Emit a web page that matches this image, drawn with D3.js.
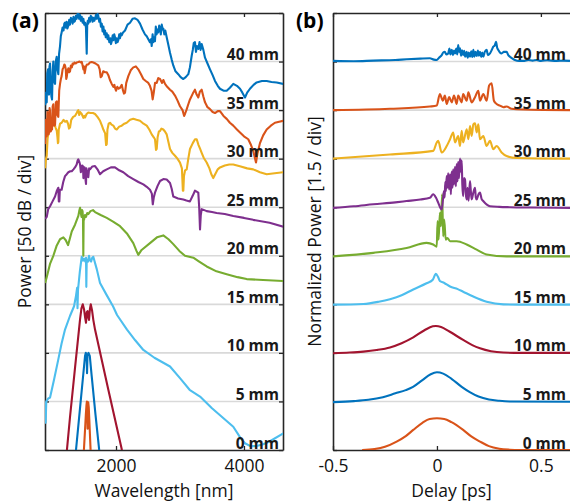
<!DOCTYPE html>
<html>
<head>
<meta charset="utf-8">
<script src="https://cdn.jsdelivr.net/npm/d3@7"></script>
<style>
  html, body { margin: 0; padding: 0; background: #fff; }
  svg { display: block; font-family: "Open Sans", "DejaVu Sans", sans-serif; }
</style>
</head>
<body>
<svg id="fig" width="570" height="502"></svg>
<script>
// ---------------- data ----------------
const propagation = ["0 mm", "5 mm", "10 mm", "15 mm", "20 mm", "25 mm", "30 mm", "35 mm", "40 mm"];
const traceColors = ["#D95319", "#0072BD", "#A2142F", "#4DBEEE", "#77AC30", "#7E2F8E", "#EDB120", "#D95319", "#0072BD"];
const wavelengthTicks = [2000, 4000];
const delayTicks = [-0.5, 0, 0.5];
const dBPerDiv = 50;
const powerPerDiv = 1.5;
const divisions = 9;

// spectra: [wavelength (nm), power (dB relative to peak)]
const spec0 = [[1480,-70],[1500,-48],[1515,-30],[1528,-14],[1538,-4],[1545,0],[1552,-2],[1556,-28],[1560,-4],[1566,-1],[1574,-6],[1586,-24],[1600,-46],[1615,-70]];
const spec5 = [[1360,-110],[1440,-55],[1500,-14],[1516,-3],[1528,0],[1540,-2],[1547,-21],[1554,-3],[1570,0],[1590,-3],[1620,-24],[1680,-64],[1745,-105]];
const spec10 = [[1220,-165],[1234,-149],[1281,-116],[1360,-65],[1437,-16],[1460,-4],[1480,0],[1500,-5],[1518,-14],[1531,-19],[1543,-8],[1555,-7],[1566,-13],[1578,-16],[1592,-5],[1605,0],[1625,-6],[1645,-16],[1672,-26],[1880,-88],[2089,-149],[2110,-160]];
const spec15 = [[892,-150],[900,-172],[910,-150],[940,-147],[969,-146],[1030,-128],[1094,-108],[1150,-90],[1203,-76],[1280,-62],[1344,-52],[1375,-41],[1392,-33],[1398,-54],[1406,-35],[1435,-16],[1464,-1],[1485,-5],[1500,-3],[1520,-6],[1531,-2],[1536,-32],[1542,-4],[1562,-6],[1578,0],[1595,-5],[1610,-6],[1628,-2],[1645,-1],[1700,-14],[1750,-28],[1850,-40],[1953,-52],[2016,-61],[2172,-76],[2300,-87],[2427,-97],[2600,-105],[2844,-114],[3000,-126],[3150,-138],[3313,-145],[3500,-157],[3833,-176],[3950,-188],[4016,-193],[4100,-196],[4198,-196],[4300,-194],[4406,-191],[4614,-183]];
const spec20 = [[892,-78],[917,-72],[970,-58],[1020,-50],[1070,-40],[1125,-33],[1177,-31],[1215,-34],[1250,-39],[1280,-32],[1308,-25],[1359,-18],[1411,-9],[1425,-4],[1438,-0.5],[1450,-6],[1461,-10],[1470,-3],[1477,-4],[1484,-12],[1489,-50],[1494,-12],[1500,-13],[1515,-8],[1531,-10],[1550,-6],[1567,-7],[1600,-4],[1640,-3],[1672,-5],[1760,-8],[1855,-11],[1960,-15],[2063,-19.5],[2170,-27],[2270,-37],[2320,-45],[2348,-49],[2400,-44],[2531,-37],[2640,-31],[2739,-29],[2820,-33],[2895,-38],[2990,-45],[3078,-50],[3208,-52],[3300,-56],[3417,-61],[3570,-66],[3730,-69],[3900,-72],[4042,-74],[4300,-75],[4614,-76]];
const spec25 = [[892,-62],[917,-60],[940,-52],[969,-49],[1000,-45],[1047,-39],[1075,-33],[1098,-30],[1106,-44],[1114,-44],[1122,-32],[1150,-32],[1175,-24],[1203,-18],[1230,-16],[1255,-14],[1285,-13],[1308,-13],[1335,-11],[1359,-9],[1385,-6],[1400,-2],[1411,-0.7],[1425,-3],[1438,-6],[1450,-14],[1457,-8],[1464,-13],[1472,-7],[1484,-8],[1490,-20],[1496,-10],[1500,-19],[1508,-9],[1516,-11],[1524,-22],[1531,-26],[1537,-10],[1547,-13],[1556,-18],[1567,-19],[1580,-10],[1594,-11],[1630,-8],[1672,-7.6],[1710,-11],[1750,-16],[1800,-13],[1855,-11],[1920,-9],[1984,-9],[2050,-12],[2114,-14],[2190,-18],[2270,-21],[2350,-24],[2427,-26.5],[2480,-29],[2531,-32],[2560,-36],[2575,-47],[2590,-40],[2609,-35],[2650,-28],[2688,-23],[2740,-21],[2792,-21.5],[2844,-25],[2870,-31],[2895,-39],[2970,-41],[3052,-42],[3100,-43],[3156,-44],[3200,-38],[3234,-33],[3260,-34],[3286,-35],[3300,-50],[3313,-73],[3325,-58],[3339,-52],[3380,-53],[3417,-54],[3500,-55],[3573,-56],[3700,-57],[3833,-59],[4000,-61],[4145,-63],[4400,-66],[4614,-70]];
const spec30 = [[892,-60],[905,-50],[917,-47],[930,-30],[945,-22],[960,-18],[969,-16],[985,-12],[1000,-14],[1020,-9],[1040,-14],[1055,-18],[1073,-21],[1085,-28],[1092,-34],[1098,-33],[1105,-20],[1125,-14],[1150,-13],[1180,-10],[1205,-12],[1230,-11],[1250,-14],[1265,-19],[1281,-18],[1300,-10],[1330,-7],[1359,-6],[1385,-3],[1400,-1],[1411,0],[1425,-5],[1440,-2],[1464,-4],[1490,-8],[1505,-6],[1516,-7.6],[1540,-4],[1567,-2.5],[1600,-3],[1640,-3],[1672,-4],[1710,-7],[1750,-11],[1780,-16],[1802,-20],[1830,-24],[1845,-36],[1855,-35],[1866,-20],[1885,-14],[1906,-13],[1930,-15],[1958,-16],[1985,-19],[2011,-20],[2050,-17],[2089,-16],[2130,-14],[2167,-13],[2220,-10],[2270,-9],[2320,-10],[2375,-11],[2430,-14],[2480,-16],[2520,-20],[2558,-25],[2590,-28],[2609,-30],[2625,-41],[2636,-40],[2650,-28],[2670,-22],[2688,-21.5],[2710,-19],[2739,-20],[2765,-22],[2792,-25],[2820,-33],[2844,-40],[2880,-44],[2922,-47],[2960,-50],[3000,-54],[3030,-60],[3045,-83],[3052,-83],[3062,-68],[3080,-62],[3105,-61],[3130,-50],[3156,-40],[3200,-34],[3235,-30],[3261,-30],[3290,-36],[3315,-40],[3339,-44],[3370,-49],[3417,-54],[3460,-60],[3490,-66],[3520,-70],[3550,-66],[3590,-61],[3625,-59],[3700,-57],[3770,-56],[3833,-56],[3950,-58],[4050,-60],[4145,-61],[4250,-64],[4355,-66],[4480,-65],[4614,-64]];
const spec35 = [[892,-85],[905,-60],[917,-77],[928,-52],[938,-54],[946,-75],[953,-73],[962,-48],[969,-51],[980,-72],[990,-70],[1000,-70],[1010,-46],[1020,-44],[1032,-66],[1047,-65],[1060,-42],[1073,-41],[1085,-55],[1098,-57],[1112,-30],[1125,-23],[1138,-18],[1150,-15],[1165,-8],[1180,-6],[1192,-3],[1203,-4],[1215,-8],[1222,-18],[1230,-16],[1240,-10],[1255,-7],[1268,-11],[1281,-10],[1295,-4],[1310,-6],[1322,-2],[1333,-3],[1350,-1],[1370,-2],[1386,-1],[1410,-0.5],[1430,0],[1450,-1],[1464,-0.3],[1478,-4],[1490,-8],[1500,-5],[1510,-12],[1516,-10],[1530,-5],[1545,-3],[1567,-3],[1590,-1],[1620,-0.5],[1645,-1],[1680,-2],[1700,-3],[1723,-4],[1745,-8],[1760,-16],[1777,-15],[1800,-10],[1830,-11],[1855,-11],[1880,-14],[1905,-19],[1933,-23],[1958,-26],[1975,-24],[1984,-27],[2000,-30],[2020,-26],[2040,-28],[2063,-27],[2090,-24],[2110,-30],[2125,-33],[2141,-32],[2160,-22],[2192,-15],[2230,-9],[2270,-6],[2310,-5],[2348,-8],[2390,-13],[2427,-18],[2465,-20],[2505,-22],[2530,-25],[2555,-30],[2573,-39],[2590,-32],[2610,-22],[2636,-22],[2660,-17],[2688,-18],[2720,-22],[2740,-19],[2766,-23],[2800,-26],[2844,-29],[2880,-31],[2922,-35],[2960,-40],[3000,-46],[3040,-50],[3065,-56],[3078,-54],[3100,-50],[3130,-44],[3156,-39],[3200,-33],[3234,-29],[3260,-34],[3286,-37],[3310,-31],[3339,-29],[3365,-36],[3391,-42],[3430,-47],[3469,-49],[3510,-52],[3547,-53],[3590,-51],[3625,-51],[3680,-56],[3730,-59],[3780,-63],[3833,-66],[3890,-70],[3938,-73],[4000,-77],[4067,-80],[4110,-86],[4145,-92],[4170,-99],[4188,-104],[4210,-95],[4250,-84],[4300,-76],[4355,-70],[4420,-66],[4484,-63],[4550,-62],[4614,-61]];
const spec40 = [[892,-95],[905,-82],[917,-92],[925,-62],[938,-58],[945,-80],[953,-84],[960,-55],[969,-52],[980,-75],[990,-86],[1000,-89],[1010,-60],[1020,-50],[1030,-66],[1040,-72],[1047,-73],[1058,-50],[1073,-45],[1085,-58],[1098,-63],[1110,-42],[1125,-34],[1137,-24],[1150,-20],[1165,-15],[1180,-18],[1192,-11],[1203,-10],[1215,-15],[1228,-9],[1240,-16],[1255,-13],[1268,-7],[1280,-12],[1295,-5],[1308,-6],[1322,-11],[1335,-4],[1347,-9],[1359,-8],[1372,-3],[1385,-6],[1398,-1],[1411,0],[1424,-6],[1437,-2],[1450,-8],[1464,-4],[1478,-10],[1490,-6],[1503,-12],[1516,-10],[1530,-15],[1542,-42],[1550,-12],[1558,-8],[1567,-11],[1580,-5],[1593,-9],[1606,-3],[1620,-4],[1634,-9],[1646,-5],[1660,-8],[1672,-6],[1686,-2],[1700,-6],[1712,-1],[1723,-3],[1738,-9],[1750,-6],[1764,-14],[1777,-11],[1790,-19],[1803,-14],[1816,-22],[1828,-18],[1840,-25],[1855,-21],[1868,-27],[1880,-23],[1895,-30],[1910,-26],[1922,-32],[1933,-29],[1948,-23],[1960,-28],[1972,-22],[1984,-25],[1998,-31],[2010,-26],[2024,-30],[2036,-28],[2050,-22],[2062,-26],[2075,-21],[2089,-23],[2110,-20],[2141,-18],[2180,-12],[2219,-10],[2258,-6],[2297,-5.5],[2336,-7],[2375,-11],[2414,-17],[2453,-22],[2480,-24],[2505,-27],[2530,-30],[2545,-27],[2558,-34],[2572,-22],[2585,-30],[2598,-25],[2609,-29],[2622,-14],[2635,-22],[2648,-17],[2661,-20],[2675,-13],[2688,-15],[2700,-22],[2715,-12],[2730,-17],[2739,-16],[2755,-22],[2770,-18],[2792,-25],[2815,-32],[2844,-41],[2870,-48],[2895,-54],[2930,-60],[2973,-63],[3010,-66],[3052,-68],[3090,-66],[3130,-63],[3155,-56],[3183,-44],[3200,-38],[3215,-31],[3234,-30],[3250,-40],[3265,-34],[3286,-37],[3305,-30],[3322,-38],[3339,-32],[3365,-38],[3391,-46],[3430,-52],[3469,-58],[3510,-64],[3547,-70],[3590,-75],[3625,-78],[3680,-80],[3730,-80],[3780,-77],[3833,-73],[3890,-75],[3938,-78],[3975,-82],[4016,-87],[4050,-82],[4094,-78],[4150,-74],[4198,-71.5],[4280,-70],[4355,-70],[4430,-71],[4511,-71.5],[4614,-73]];

// autocorrelation traces: [delay (ps), normalized power]
const delay0 = [[-0.36,0],[-0.3,0.03],[-0.25,0.1],[-0.194,0.26],[-0.15,0.43],[-0.114,0.62],[-0.07,0.84],[-0.035,0.96],[0,0.98],[0.035,0.96],[0.07,0.86],[0.126,0.62],[0.165,0.42],[0.207,0.26],[0.25,0.12],[0.3,0.04],[0.35,0.01],[0.4,0],[0.64,0]];
const delay5 = [[-0.5,-0.02],[-0.4,0.01],[-0.33,0.05],[-0.26,0.13],[-0.2,0.25],[-0.15,0.35],[-0.115,0.45],[-0.07,0.66],[-0.03,0.84],[0,0.9],[0.03,0.86],[0.07,0.7],[0.119,0.45],[0.16,0.28],[0.2,0.15],[0.25,0.06],[0.3,0.02],[0.35,0],[0.64,-0.01]];
const delay10 = [[-0.5,-0.01],[-0.42,0.01],[-0.354,0.04],[-0.29,0.09],[-0.226,0.17],[-0.17,0.3],[-0.114,0.48],[-0.06,0.7],[-0.02,0.82],[-0.005,0.83],[0.02,0.8],[0.06,0.66],[0.126,0.4],[0.17,0.24],[0.207,0.14],[0.26,0.05],[0.319,0.01],[0.4,0],[0.64,0]];
const delay15 = [[-0.5,-0.01],[-0.354,0.01],[-0.28,0.08],[-0.226,0.16],[-0.17,0.28],[-0.114,0.46],[-0.05,0.65],[-0.02,0.76],[-0.005,0.94],[0.005,0.85],[0.014,0.72],[0.035,0.66],[0.063,0.55],[0.1,0.47],[0.126,0.39],[0.175,0.24],[0.239,0.08],[0.319,0],[0.45,-0.01],[0.64,-0.01]];
const delay20 = [[-0.5,-0.02],[-0.306,0.09],[-0.146,0.24],[-0.05,0.4],[-0.018,0.35],[-0.001,0.28],[0.003,1.07],[0.008,0.5],[0.014,1.33],[0.019,0.91],[0.025,1.9],[0.03,0.6],[0.035,1.12],[0.042,0.5],[0.05,0.55],[0.063,0.45],[0.095,0.45],[0.143,0.35],[0.191,0.19],[0.239,0.04],[0.335,-0.02],[0.64,-0.02]];
const delay25 = [[-0.5,-0.02],[-0.4,0.03],[-0.306,0.09],[-0.2,0.15],[-0.146,0.19],[-0.08,0.24],[-0.034,0.29],[-0.018,0.4],[-0.005,0.3],[0.006,0.14],[0.015,0.0],[0.023,-0.07],[0.03,0.3],[0.034,0.5],[0.037,0.3],[0.04,0.78],[0.043,0.5],[0.047,0.96],[0.05,0.6],[0.054,1.05],[0.058,0.55],[0.063,1.02],[0.067,0.4],[0.071,1.1],[0.075,0.6],[0.078,1.17],[0.082,0.7],[0.087,1.25],[0.091,0.65],[0.095,1.33],[0.099,0.8],[0.102,1.4],[0.106,0.9],[0.111,1.5],[0.115,1.1],[0.119,1.45],[0.122,0.7],[0.126,0.34],[0.13,0.9],[0.135,0.86],[0.139,0.4],[0.143,0.24],[0.147,0.6],[0.152,0.2],[0.159,0.81],[0.163,0.5],[0.167,0.24],[0.175,0.45],[0.183,0.6],[0.187,0.3],[0.191,0.24],[0.2,0.4],[0.207,0.45],[0.215,0.25],[0.223,0.19],[0.24,0.08],[0.255,0.03],[0.3,0.01],[0.35,0],[0.45,-0.01],[0.64,-0.02]];
const delay30 = [[-0.5,0],[-0.226,0.13],[-0.018,0.24],[-0.001,0.5],[0.006,0.55],[0.023,0.19],[0.047,0.39],[0.063,0.6],[0.078,0.81],[0.087,0.5],[0.102,0.7],[0.111,0.39],[0.119,0.86],[0.126,0.5],[0.143,0.91],[0.151,0.6],[0.159,1.01],[0.167,0.7],[0.175,1.06],[0.183,1.09],[0.191,0.81],[0.199,1.06],[0.207,0.6],[0.223,0.7],[0.239,0.39],[0.255,0.55],[0.271,0.29],[0.287,0.39],[0.311,0.19],[0.335,0.08],[0.383,0.02],[0.64,0]];
const delay35 = [[-0.5,0],[-0.226,0.04],[-0.034,0.11],[-0.001,0.14],[0.014,0.5],[0.028,0.29],[0.038,0.45],[0.047,0.19],[0.059,0.4],[0.071,0.24],[0.082,0.45],[0.095,0.19],[0.102,0.45],[0.119,0.24],[0.126,0.5],[0.143,0.29],[0.151,0.55],[0.167,0.24],[0.183,0.4],[0.199,0.6],[0.207,0.29],[0.223,0.5],[0.239,0.29],[0.251,0.76],[0.263,0.83],[0.274,0.29],[0.287,0.19],[0.303,0.14],[0.319,0.09],[0.335,0.11],[0.359,0.04],[0.415,0.02],[0.64,0]];
const delay40 = [[-0.5,0.02],[-0.4,0.01],[-0.306,0.03],[-0.2,0.05],[-0.146,0.07],[-0.08,0.09],[-0.034,0.1],[-0.015,0.06],[-0.001,0.05],[0.01,0.12],[0.023,0.2],[0.03,0.28],[0.038,0.3],[0.045,0.22],[0.054,0.25],[0.06,0.4],[0.065,0.22],[0.071,0.36],[0.077,0.2],[0.082,0.34],[0.087,0.25],[0.093,0.4],[0.098,0.22],[0.102,0.51],[0.107,0.3],[0.111,0.41],[0.116,0.18],[0.121,0.35],[0.126,0.2],[0.131,0.33],[0.136,0.15],[0.143,0.3],[0.148,0.12],[0.153,0.28],[0.159,0.15],[0.165,0.32],[0.17,0.14],[0.175,0.36],[0.18,0.15],[0.185,0.3],[0.191,0.17],[0.197,0.34],[0.202,0.18],[0.207,0.3],[0.213,0.14],[0.218,0.28],[0.223,0.15],[0.23,0.3],[0.239,0.36],[0.245,0.2],[0.255,0.25],[0.263,0.35],[0.271,0.46],[0.278,0.5],[0.284,0.61],[0.29,0.42],[0.295,0.36],[0.303,0.28],[0.311,0.25],[0.322,0.3],[0.335,0.3],[0.343,0.2],[0.351,0.15],[0.362,0.1],[0.375,0.05],[0.395,0.02],[0.415,0.02],[0.44,0.05],[0.46,0.03],[0.479,0.05],[0.5,0.02],[0.53,0.04],[0.575,0.02],[0.61,0.03],[0.64,0.02]];

const spectra = [spec0, spec5, spec10, spec15, spec20, spec25, spec30, spec35, spec40];
const traces = [delay0, delay5, delay10, delay15, delay20, delay25, delay30, delay35, delay40];

// ---------------- drawing ----------------
const svg = d3.select("#fig");
const INK = "#262626";
const GRID = "#d9d9d9";

function drawPanel(o) {
  const { x, y, step, series, offsetOf, xTicks, clipId, labelRight, xTitle, yTitle, yTitleX, tag, tagX, rightAxis, curve } = o;
  const [x0, x1] = x.range();
  const [yb, yt] = y.range();
  const g = svg.append("g");

  g.append("clipPath").attr("id", clipId)
    .append("rect").attr("x", x0).attr("y", yt).attr("width", x1 - x0).attr("height", yb - yt);

  // baselines of each offset trace
  g.append("g").selectAll("line")
    .data(d3.range(1, divisions))
    .join("line")
    .attr("x1", x0).attr("x2", x1)
    .attr("y1", k => y(k * step)).attr("y2", k => y(k * step))
    .attr("stroke", GRID).attr("stroke-width", 1.6);

  const yTickVals = d3.range(0, divisions + 1).map(k => k * step);

  // frame and ticks (ticks point into the plot)
  const axB = g.append("g").attr("transform", `translate(0,${yb})`)
    .call(d3.axisBottom(x).tickValues(xTicks).tickSizeInner(-4).tickSizeOuter(0).tickPadding(9.5).tickFormat(d => String(d)));
  const axT = g.append("g").attr("transform", `translate(0,${yt})`)
    .call(d3.axisTop(x).tickValues(xTicks).tickSizeInner(-4).tickSizeOuter(0).tickFormat(""));
  const axL = g.append("g").attr("transform", `translate(${x0},0)`)
    .call(d3.axisLeft(y).tickValues(yTickVals).tickSizeInner(-4).tickSizeOuter(0).tickFormat(""));
  const axes = [axB, axT, axL];
  if (rightAxis) {
    axes.push(g.append("g").attr("transform", `translate(${x1},0)`)
      .call(d3.axisRight(y).tickValues(yTickVals).tickSizeInner(-4).tickSizeOuter(0).tickFormat("")));
  }
  axes.forEach(a => {
    a.select(".domain").attr("stroke", INK).attr("stroke-width", 1.6);
    a.selectAll(".tick line").attr("stroke", INK).attr("stroke-width", 1.3);
    a.selectAll(".tick text").attr("fill", "#111").attr("font-size", 17.5)
      .attr("font-family", "'Open Sans', sans-serif");
  });

  // traces
  const line = d3.line().curve(curve).x(d => x(d[0])).y(d => y(d[1]));
  g.append("g").attr("clip-path", `url(#${clipId})`)
    .selectAll("path")
    .data(series)
    .join("path")
    .attr("d", (s, k) => line(s.map(p => [p[0], p[1] + offsetOf(k)])))
    .attr("fill", "none")
    .attr("stroke", (s, k) => traceColors[k])
    .attr("stroke-width", 2.1)
    .attr("stroke-linejoin", "round");

  // propagation-length labels
  g.append("g").selectAll("text")
    .data(propagation)
    .join("text")
    .attr("x", labelRight)
    .attr("y", (d, k) => y(k * step) - 1.5)
    .attr("text-anchor", "end")
    .attr("font-weight", 700)
    .attr("font-size", 15.5)
    .attr("fill", "#1a1a1a")
    .text(d => d);

  // axis titles
  g.append("text")
    .attr("x", (x0 + x1) / 2).attr("y", 497)
    .attr("text-anchor", "middle").attr("font-size", 17.5).attr("fill", "#111")
    .text(xTitle);
  g.append("text")
    .attr("transform", `translate(${yTitleX},${(yt + yb) / 2}) rotate(-90)`)
    .attr("text-anchor", "middle").attr("font-size", 17.5).attr("fill", "#111")
    .text(yTitle);

  // panel tag
  g.append("text")
    .attr("x", tagX).attr("y", 28)
    .attr("font-size", 21).attr("font-weight", 700).attr("fill", "#000")
    .text(tag);
}

// (a) spectra, 50 dB per division
const xSpec = d3.scaleLinear().domain([890, 4610]).range([45, 283]);
const ySpec = d3.scaleLinear().domain([0, divisions * dBPerDiv]).range([450, 13]);
drawPanel({
  x: xSpec, y: ySpec, step: dBPerDiv, series: spectra,
  offsetOf: k => (k + 1) * dBPerDiv,
  xTicks: wavelengthTicks, clipId: "clipA", labelRight: 279,
  xTitle: "Wavelength [nm]", yTitle: "Power [50 dB / div]", yTitleX: 31,
  tag: "(a)", tagX: 12, rightAxis: true, curve: d3.curveLinear
});

// (b) autocorrelation traces, 1.5 per division
const xDelay = d3.scaleLinear().domain([-0.5, 0.64]).range([333, 570]);
const yDelay = d3.scaleLinear().domain([0, divisions * powerPerDiv]).range([450, 13]);
drawPanel({
  x: xDelay, y: yDelay, step: powerPerDiv, series: traces,
  offsetOf: k => k * powerPerDiv,
  xTicks: delayTicks, clipId: "clipB", labelRight: 566,
  xTitle: "Delay [ps]", yTitle: "Normalized Power [1.5 / div]", yTitleX: 321,
  tag: "(b)", tagX: 296, rightAxis: false, curve: d3.curveMonotoneX
});
</script>
</body>
</html>
